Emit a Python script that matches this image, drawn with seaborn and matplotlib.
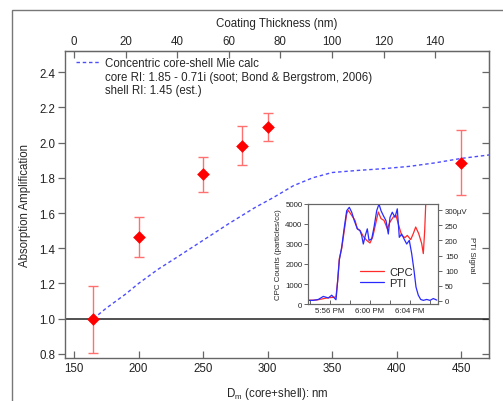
import matplotlib
matplotlib.use("Agg")
import matplotlib.pyplot as plt
from matplotlib.lines import Line2D
from matplotlib.patches import Rectangle
from matplotlib.ticker import FixedLocator, FormatStrFormatter
import seaborn as sns
import numpy as np

# ---------------- data ----------------
# measured absorption amplification
diam = [165, 200, 250, 280, 300, 450]
amp = [1.00, 1.466, 1.819, 1.979, 2.087, 1.882]
amp_lo = [0.804, 1.352, 1.720, 1.870, 2.007, 1.700]
amp_hi = [1.185, 1.578, 1.920, 2.093, 2.167, 2.070]

# Mie calculation
mie_d = [165, 175, 190, 200, 215, 230, 250, 270, 290, 305, 320, 335, 350, 370, 390, 410, 430, 450, 472]
mie_a = [1.00, 1.06, 1.14, 1.20, 1.28, 1.35, 1.445, 1.54, 1.63, 1.69, 1.755, 1.80, 1.83, 1.842,
         1.852, 1.865, 1.885, 1.91, 1.93]

# inset: minutes after 5:54 PM
cpc_t = [-0.17, 0.67, 1.67, 2.6, 2.77, 2.93, 3.17, 3.43, 3.67, 3.83, 4.17, 4.5, 4.73, 5.0, 5.33,
         5.67, 6.0, 6.27, 6.57, 6.83, 7.1, 7.4, 7.73, 8.0, 8.33, 8.6, 8.87, 9.17, 9.5, 9.73, 10.07,
         10.33, 10.57, 10.87, 11.17, 11.33, 11.47, 11.6, 11.67]
cpc = [185, 200, 300, 350, 1180, 2270, 2770, 3680, 4520, 4680, 4430, 4180, 3770, 3680, 3380,
       3180, 3050, 3350, 4020, 4600, 4270, 4180, 3770, 4100, 4350, 4430, 3930, 3430, 3320, 3430,
       3220, 3520, 3850, 3520, 3020, 2520, 3680, 5350, 6000]

pti_t = [-0.17, 0.33, 0.83, 1.33, 1.83, 2.17, 2.6, 2.77, 2.93, 3.17, 3.43, 3.67, 3.93, 4.17, 4.43,
         4.73, 5.0, 5.17, 5.33, 5.53, 5.73, 5.9, 6.17, 6.4, 6.67, 6.9, 7.1, 7.33, 7.6, 7.83, 8.0,
         8.23, 8.5, 8.73, 8.93, 9.17, 9.4, 9.67, 9.93, 10.17, 10.4, 10.6, 10.83, 11.07, 11.33,
         11.67, 12.0, 12.33, 12.67]
pti = [2, 2, 5, 15, 10, 19, 4, 68, 134, 178, 243, 298, 309, 293, 265, 238, 232, 216, 188, 216,
       238, 200, 205, 243, 298, 320, 298, 282, 265, 221, 276, 293, 276, 304, 210, 221, 205, 188,
       200, 156, 101, 46, 19, 5, 2, 5, 2, 8, 3]

x_ticks = [150, 200, 250, 300, 350, 400, 450]
y_ticks = [0.8, 1.0, 1.2, 1.4, 1.6, 1.8, 2.0, 2.2, 2.4]
top_ticks = [0, 20, 40, 60, 80, 100, 120, 140]
inset_xticks = [2, 6, 10]
inset_xlabels = ["5:56 PM", "6:00 PM", "6:04 PM"]
inset_minor = [0, 4, 8, 12]
cpc_ticks = [0, 1000, 2000, 3000, 4000, 5000]
pti_ticks = [0, 50, 100, 150, 200, 250, 300]
pti_labels = ["0", "50", "100", "150", "200", "250", "300µV"]

legend_lines = ["Concentric core-shell Mie calc",
                "core RI: 1.85 - 0.71i (soot; Bond & Bergstrom, 2006)",
                "shell RI: 1.45 (est.)"]

# ---------------- style ----------------
sns.set_style("ticks")
plt.rcParams['font.family'] = ['Liberation Sans', 'DejaVu Sans']
plt.rcParams['mathtext.fontset'] = 'custom'
plt.rcParams['mathtext.rm'] = 'Liberation Sans'
plt.rcParams['mathtext.it'] = 'Liberation Sans'
SP = '#666666'
FS = 8.3

W, H = 503, 402
fig = plt.figure(figsize=(W / 100, H / 100), dpi=100)

def fx(px):
    return px / W

def fy(py):
    return 1 - py / H

# outer frame
fig.patches.append(Rectangle((fx(12), -0.1), 1.2, fy(11) + 0.1, transform=fig.transFigure,
                             fill=False, edgecolor='#777777', lw=1.0))

ax = fig.add_axes([fx(65), fy(359), fx(489) - fx(65), fy(52) - fy(359)])
ax.set_facecolor('none')

# Mie calculation line
sns.lineplot(x=mie_d, y=mie_a, ax=ax, color='#4d4dff', lw=1.0, linestyle=(0, (2.5, 2.0)),
             legend=False)
# reference line
ax.axhline(1.0, color='#222222', lw=1.1, zorder=1)
# error bars
d = np.array(diam)
a = np.array(amp)
yerr = np.vstack([a - np.array(amp_lo), np.array(amp_hi) - a])
ax.errorbar(d, a, yerr=yerr, fmt='none', ecolor='#ff7070', elinewidth=1.0, capsize=3.5,
            capthick=1.0, zorder=3)
sns.scatterplot(x=diam, y=amp, ax=ax, marker='D', color='#ff0000', s=42, edgecolor='#ff0000',
                linewidth=0, zorder=4, legend=False)

ax.set_xlim(143, 471.7)
ax.set_ylim(0.777, 2.52)
ax.set_xticks(x_ticks)
ax.set_yticks(y_ticks)
ax.yaxis.set_major_formatter(FormatStrFormatter('%.1f'))
ax.tick_params(axis='x', direction='in', length=5, width=0.9, labelsize=FS, pad=3)
ax.tick_params(axis='y', direction='out', length=5, width=0.9, labelsize=FS, pad=2,
               left=True, right=False)
ax.tick_params(axis='both', color=SP, labelcolor='#222222')
for s in ax.spines.values():
    s.set_color(SP)
    s.set_linewidth(1.0)
ax.set_ylabel("Absorption Amplification", fontsize=FS, labelpad=6)
ax.set_xlabel("")

# mirrored inward right ticks
axr = ax.secondary_yaxis('right')
axr.set_yticks(y_ticks)
axr.tick_params(direction='in', length=5, width=0.9, color=SP, labelright=False)
axr.spines['right'].set_color(SP)

# top axis
top = ax.secondary_xaxis('top', functions=(lambda v: (v - 150) / 2.0, lambda t: 150 + 2.0 * t))
top.set_xticks(top_ticks)
top.tick_params(direction='in', length=5, width=0.9, color=SP, labelsize=FS, pad=3)
top.spines['top'].set_color(SP)
top.set_xlabel("Coating Thickness (nm)", fontsize=FS, labelpad=6)

# bottom label
fig.text(fx(277), fy(397), r"D$_\mathrm{m}$ (core+shell): nm", ha='center', va='baseline',
         fontsize=FS)

# legend
handles = [Line2D([], [], color='#4d4dff', lw=1.0, linestyle=(0, (2.5, 2.0))),
           Line2D([], [], color='none'), Line2D([], [], color='none')]
ax.legend(handles, legend_lines, loc='upper left', bbox_to_anchor=(fx(76), fy(58)),
          bbox_transform=fig.transFigure, frameon=False, fontsize=FS, handlelength=2.0,
          handletextpad=0.5, labelspacing=0.15, borderpad=0, borderaxespad=0)

# ---------------- inset ----------------
INS = 5.7
axi = fig.add_axes([fx(308), fy(305), fx(438) - fx(308), fy(205) - fy(305)])
axi.set_facecolor('white')
sns.lineplot(x=cpc_t, y=cpc, ax=axi, color='#ff2a2a', lw=0.9, legend=False)
axi.set_xlim(-0.2, 12.8)
axi.set_ylim(0, 5000)
axi.set_xticks(inset_xticks)
axi.set_xticklabels(inset_xlabels)
axi.xaxis.set_minor_locator(FixedLocator(inset_minor))
axi.set_yticks(cpc_ticks)
axi.tick_params(axis='x', which='both', direction='in', length=3, width=0.7, color=SP,
                labelsize=INS, pad=2)
axi.tick_params(axis='y', direction='out', length=3, width=0.7, color=SP, labelsize=INS, pad=1)
axi.set_ylabel("CPC Counts (particles/cc)", fontsize=INS, labelpad=2)
axi.set_xlabel("")
for s in axi.spines.values():
    s.set_color(SP)
    s.set_linewidth(0.8)

ax2 = axi.twinx()
sns.lineplot(x=pti_t, y=pti, ax=ax2, color='#2a2aff', lw=0.9, legend=False)
ax2.set_ylim(-10, 320)
ax2.set_yticks(pti_ticks)
ax2.set_yticklabels(pti_labels)
ax2.tick_params(axis='y', direction='out', length=3, width=0.7, color=SP, labelsize=INS, pad=2)
ax2.set_ylabel("PTI Signal", fontsize=INS, rotation=270, labelpad=5)
for s in ax2.spines.values():
    s.set_color(SP)
    s.set_linewidth(0.8)

ih = [Line2D([], [], color='#ff2a2a', lw=0.9), Line2D([], [], color='#2a2aff', lw=0.9)]
ax2.legend(ih, ["CPC", "PTI"], loc='upper left', bbox_to_anchor=(fx(360), fy(268)),
           bbox_transform=fig.transFigure, frameon=False, fontsize=8, handlelength=2.2,
           handletextpad=0.4, labelspacing=0.1, borderpad=0, borderaxespad=0)

fig.savefig("out.png", dpi=100)
